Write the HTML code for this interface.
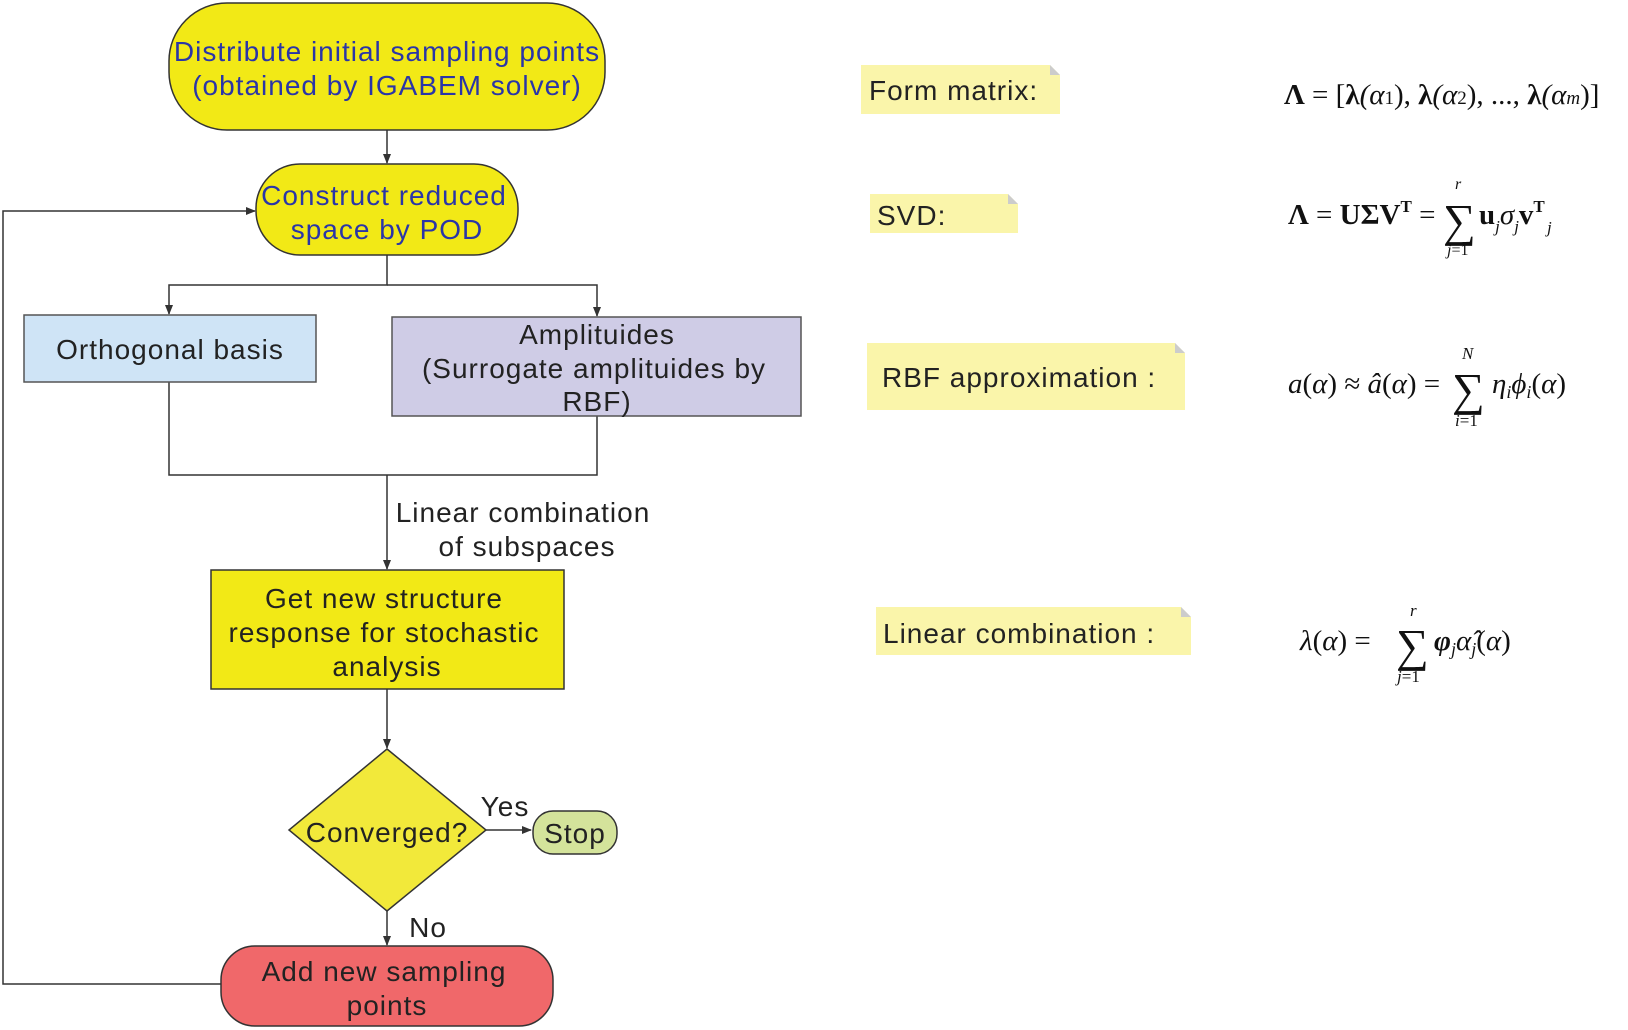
<!DOCTYPE html>
<html><head><meta charset="utf-8"><style>
html,body{margin:0;padding:0;background:#fff}
svg{display:block}
.t{font-family:"Liberation Sans","DejaVu Sans",sans-serif;font-size:28px;letter-spacing:1px;fill:#222}
.b{fill:#2a35a8}
.m{font-family:"Liberation Serif",serif;font-size:29px;fill:#111}
</style></head><body>
<svg width="1628" height="1030" viewBox="0 0 1628 1030" xmlns="http://www.w3.org/2000/svg">
<defs><marker id="a" markerWidth="10" markerHeight="10" refX="9" refY="5" orient="auto" markerUnits="userSpaceOnUse"><path d="M0,1 L10,5 L0,9 z" fill="#333"/></marker></defs>
<g stroke="#333" stroke-width="1.5" fill="none">
<line x1="387" y1="130" x2="387" y2="163" marker-end="url(#a)"/>
<polyline points="387,255 387,285 169,285 169,314" marker-end="url(#a)"/>
<polyline points="387,285 597,285 597,316" marker-end="url(#a)"/>
<polyline points="169,382 169,475 597,475 597,416"/>
<line x1="387" y1="475" x2="387" y2="569" marker-end="url(#a)"/>
<line x1="387" y1="689" x2="387" y2="748" marker-end="url(#a)"/>
<line x1="486" y1="830" x2="531" y2="830" marker-end="url(#a)"/>
<line x1="387" y1="911" x2="387" y2="945" marker-end="url(#a)"/>
<polyline points="221,984 3,984 3,211 255,211" marker-end="url(#a)"/>
</g>
<rect x="169" y="3" width="436" height="127" rx="58" fill="#f2e916" stroke="#333" stroke-width="1.5"/>
<text class="t b" x="387" y="61" text-anchor="middle">Distribute initial sampling points</text>
<text class="t b" x="387" y="95" text-anchor="middle">(obtained by IGABEM solver)</text>
<rect x="256" y="164" width="262" height="91" rx="44" fill="#f2e916" stroke="#333" stroke-width="1.5"/>
<text class="t b" x="384" y="205" text-anchor="middle">Construct reduced</text>
<text class="t b" x="387" y="239" text-anchor="middle">space by POD</text>
<rect x="24" y="315" width="292" height="67" fill="#cfe4f6" stroke="#555" stroke-width="1.5"/>
<text class="t" x="170" y="359" text-anchor="middle">Orthogonal basis</text>
<rect x="392" y="317" width="409" height="99" fill="#cfcce6" stroke="#555" stroke-width="1.5"/>
<text class="t" x="597" y="344" text-anchor="middle">Amplituides</text>
<text class="t" x="594" y="378" text-anchor="middle">(Surrogate amplituides by</text>
<text class="t" x="597" y="411" text-anchor="middle">RBF)</text>
<text class="t" x="523" y="522" text-anchor="middle">Linear combination</text>
<text class="t" x="527" y="556" text-anchor="middle">of subspaces</text>
<rect x="211" y="570" width="353" height="119" fill="#f2e916" stroke="#333" stroke-width="1.5"/>
<text class="t" x="384" y="608" text-anchor="middle">Get new structure</text>
<text class="t" x="384" y="642" text-anchor="middle">response for stochastic</text>
<text class="t" x="387" y="676" text-anchor="middle">analysis</text>
<polygon points="387,749 486,830 387,911 289,830" fill="#f2e93a" stroke="#333" stroke-width="1.5"/>
<text class="t" x="387" y="842" text-anchor="middle">Converged?</text>
<text class="t" x="505" y="816" text-anchor="middle">Yes</text>
<rect x="533" y="811" width="84" height="43" rx="20" fill="#d4e39b" stroke="#333" stroke-width="1.5"/>
<text class="t" x="575" y="843" text-anchor="middle">Stop</text>
<text class="t" x="428" y="937" text-anchor="middle">No</text>
<rect x="221" y="946" width="332" height="80" rx="34" fill="#f0686a" stroke="#333" stroke-width="1.5"/>
<text class="t" x="384" y="981" text-anchor="middle">Add new sampling</text>
<text class="t" x="387" y="1015" text-anchor="middle">points</text>
<g>
<path d="M861,65 H1050 L1060,75 V114 H861 z" fill="#faf5aa"/><path d="M1050,65 L1060,75 H1050 z" fill="#ccc"/>
<text class="t" x="869" y="100">Form matrix:</text>
<path d="M870,194 H1008 L1018,204 V233 H870 z" fill="#faf5aa"/><path d="M1008,194 L1018,204 H1008 z" fill="#ccc"/>
<text class="t" x="877" y="225">SVD:</text>
<path d="M867,343 H1175 L1185,353 V410 H867 z" fill="#faf5aa"/><path d="M1175,343 L1185,353 H1175 z" fill="#ccc"/>
<text class="t" x="882" y="387">RBF approximation :</text>
<path d="M876,607 H1181 L1191,617 V655 H876 z" fill="#faf5aa"/><path d="M1181,607 L1191,617 H1181 z" fill="#ccc"/>
<text class="t" x="883" y="643">Linear combination :</text>
</g>
<text class="m" x="1284" y="104" font-weight="bold">Λ<tspan font-weight="normal"> = [</tspan>λ<tspan font-weight="normal" font-style="italic">(α</tspan><tspan font-weight="normal" style="font-size:19px">1</tspan><tspan font-weight="normal">), </tspan>λ<tspan font-weight="normal" font-style="italic">(α</tspan><tspan font-weight="normal" style="font-size:19px">2</tspan><tspan font-weight="normal">), ..., </tspan>λ<tspan font-weight="normal" font-style="italic">(α</tspan><tspan font-weight="normal" font-style="italic" style="font-size:19px">m</tspan><tspan font-weight="normal">)]</tspan></text>
<text class="m" x="1288" y="224" font-weight="bold">Λ<tspan font-weight="normal"> = </tspan>UΣV<tspan style="font-size:17px" dy="-12">T</tspan><tspan font-weight="normal" dy="12"> = </tspan></text>
<text class="m" x="1443" y="236" style="font-size:46px">∑</text>
<text class="m" x="1455" y="189" style="font-size:16px" font-style="italic">r</text>
<text class="m" x="1447" y="255" style="font-size:16px" font-style="italic">j<tspan font-style="normal">=1</tspan></text>
<text class="m" x="1479" y="224" font-weight="bold">u<tspan font-weight="normal" font-style="italic" style="font-size:17px" dy="8">j</tspan><tspan font-weight="normal" font-style="italic" dy="-8">σ</tspan><tspan font-weight="normal" font-style="italic" style="font-size:17px" dy="8">j</tspan><tspan dy="-8">v</tspan><tspan style="font-size:17px" dy="-12">T</tspan></text>
<text class="m" x="1547" y="233" style="font-size:17px" font-style="italic">j</text>
<text class="m" x="1288" y="393" font-style="italic">a<tspan font-style="normal">(</tspan>α<tspan font-style="normal">) ≈ </tspan>â<tspan font-style="normal">(</tspan>α<tspan font-style="normal">) =</tspan></text>
<text class="m" x="1452" y="405" style="font-size:46px">∑</text>
<text class="m" x="1462" y="359" style="font-size:17px" font-style="italic">N</text>
<text class="m" x="1455" y="426" style="font-size:17px" font-style="italic">i<tspan font-style="normal">=1</tspan></text>
<text class="m" x="1492" y="393" font-style="italic">η<tspan style="font-size:18px" dy="5">i</tspan><tspan dy="-5">ϕ</tspan><tspan style="font-size:18px" dy="5">i</tspan><tspan font-style="normal" dy="-5">(</tspan>α<tspan font-style="normal">)</tspan></text>
<text class="m" x="1300" y="650" font-style="italic">λ<tspan font-style="normal">(</tspan>α<tspan font-style="normal">) =</tspan></text>
<text class="m" x="1396" y="661" style="font-size:46px">∑</text>
<text class="m" x="1410" y="616" style="font-size:17px" font-style="italic">r</text>
<text class="m" x="1397" y="682" style="font-size:17px" font-style="italic">j<tspan font-style="normal">=1</tspan></text>
<text class="m" x="1434" y="650" font-weight="bold" font-style="italic">φ<tspan font-weight="normal" style="font-size:18px" dy="5">j</tspan><tspan font-weight="normal" dy="-5">α̂</tspan><tspan font-weight="normal" style="font-size:18px" dy="5">j</tspan><tspan font-weight="normal" font-style="normal" dy="-5">(</tspan><tspan font-weight="normal">α</tspan><tspan font-weight="normal" font-style="normal">)</tspan></text>
</svg>
</body></html>
